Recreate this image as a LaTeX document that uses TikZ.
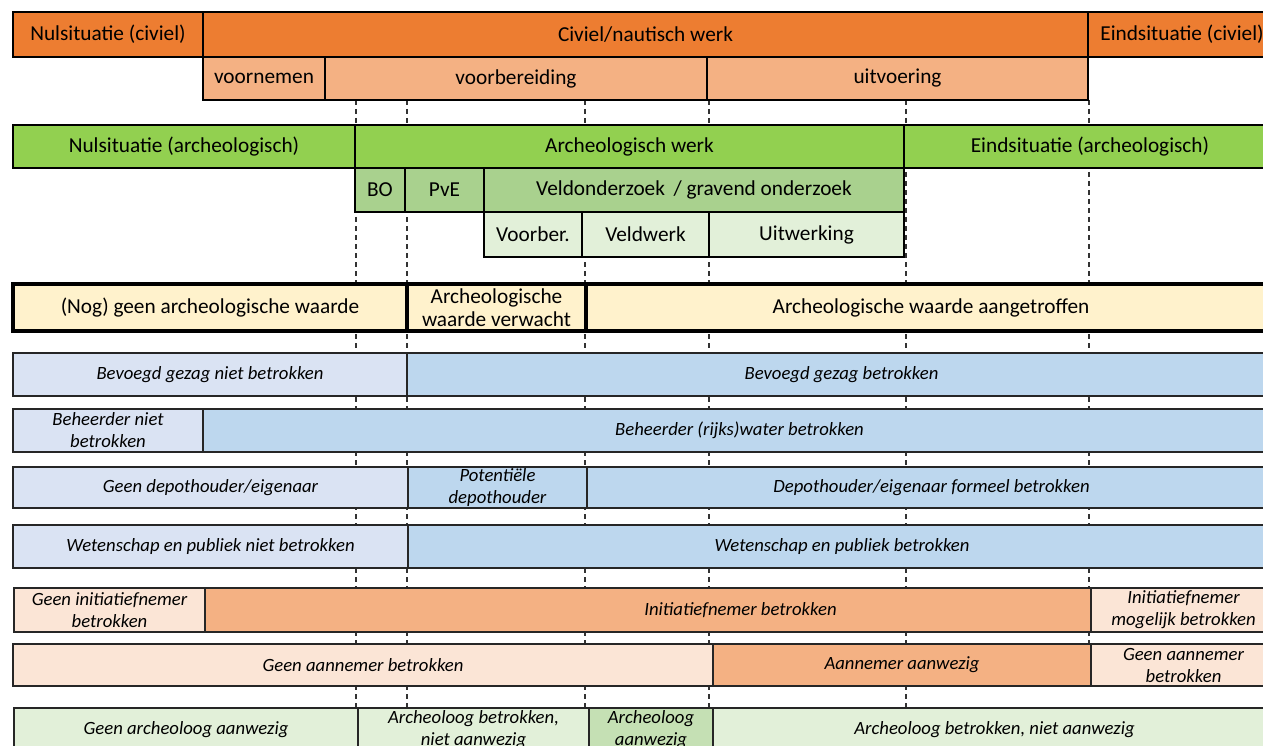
\documentclass[tikz,border=0pt]{standalone}
\usepackage{fontspec}
\setmainfont{Carlito}
\definecolor{oDark}{HTML}{ED7D31}
\definecolor{oLight}{HTML}{F4B183}
\definecolor{oPale}{HTML}{FBE5D6}
\definecolor{gBright}{HTML}{92D050}
\definecolor{gMid}{HTML}{A9D18E}
\definecolor{gLight}{HTML}{E2F0D9}
\definecolor{gArch}{HTML}{C5E0B4}
\definecolor{yPale}{HTML}{FFF2CC}
\definecolor{bPale}{HTML}{DAE3F3}
\definecolor{bMid}{HTML}{BDD7EE}
\tikzset{
  phase/.style={draw=black, line width=2.8pt, inner sep=0pt, outer sep=0pt, align=center,
    font=\fontsize{21.3}{23.5}\selectfont},
  yellowbox/.style={phase, line width=3.4pt, fill=yPale},
  actor/.style={draw=black!85, line width=1.3pt, inner sep=0pt, outer sep=0pt, align=center,
    font=\fontsize{18.7}{22}\selectfont\itshape},
  guide/.style={draw=black!80, line width=1.2pt, dash pattern=on 5pt off 4pt},
}
\newcommand\bx[7]{\node[#6, minimum width={(#3-#2)*1pt}, minimum height={(#5-#4)*1pt}] (#1) at ({(#2+#3)/2},{(#4+#5)/2}) {#7};}
\begin{document}
\begin{tikzpicture}[x=1pt,y=-1pt]
\useasboundingbox (0,0) rectangle (1263,746);
\clip (0,0) rectangle (1263,746);
% dashed guide lines
\draw[guide] (356,100) -- (356,708);
\draw[guide] (407,100) -- (407,708);
\draw[guide] (585,100) -- (585,708);
\draw[guide] (709,100) -- (709,708);
\draw[guide] (906,100) -- (906,708);
\draw[guide] (1089,100) -- (1089,644);
% row 1
\bx{n1a}{13}{203}{12}{57}{phase, fill=oDark}{Nulsituatie (civiel)}
\bx{n1b}{203}{1088}{12}{57}{phase, fill=oDark}{Civiel/nautisch werk}
\bx{n1c}{1088}{1276}{12}{57}{phase, fill=oDark}{Eindsituatie (civiel)}
% row 2
\bx{n2a}{203}{325}{57}{100}{phase, fill=oLight}{voornemen}
\bx{n2b}{325}{707}{57}{100}{phase, fill=oLight}{voorbereiding}
\bx{n2c}{707}{1088}{57}{100}{phase, fill=oLight}{uitvoering}
% row 3
\bx{n3a}{13}{355}{125}{168}{phase, fill=gBright}{Nulsituatie (archeologisch)}
\bx{n3b}{355}{904}{125}{168}{phase, fill=gBright}{Archeologisch werk}
\bx{n3c}{904}{1276}{125}{168}{phase, fill=gBright}{Eindsituatie (archeologisch)}
% row 4
\bx{n4a}{355}{405}{168}{212}{phase, fill=gMid}{BO}
\bx{n4b}{405}{484}{168}{212}{phase, fill=gMid}{PvE}
\bx{n4c}{484}{904}{168}{212}{phase, fill=gMid}{Veldonderzoek\hspace{0.4em}/ gravend onderzoek}
% row 5
\bx{n5a}{484}{582}{212}{257}{phase, fill=gLight}{Voorber.}
\bx{n5b}{582}{709}{212}{257}{phase, fill=gLight}{Veldwerk}
\bx{n5c}{709}{904}{212}{257}{phase, fill=gLight}{Uitwerking}
% row 6
\bx{n6a}{13}{407}{284}{331}{yellowbox}{(Nog) geen archeologische waarde}
\bx{n6b}{407}{586}{284}{331}{yellowbox}{Archeologische\\waarde verwacht}
\bx{n6c}{586}{1276}{284}{331}{yellowbox}{Archeologische waarde aangetroffen}
% row 7
\bx{n7a}{13}{407}{353}{396}{actor, fill=bPale}{Bevoegd gezag niet betrokken}
\bx{n7b}{407}{1276}{353}{396}{actor, fill=bMid}{Bevoegd gezag betrokken}
% row 8
\bx{n8a}{13}{203}{409}{452}{actor, fill=bPale}{Beheerder niet\\betrokken}
\bx{n8b}{203}{1276}{409}{452}{actor, fill=bMid}{Beheerder (rijks)water betrokken}
% row 9
\bx{n9a}{13}{408}{467}{508}{actor, fill=bPale}{Geen depothouder/eigenaar}
\bx{n9b}{408}{587}{467}{508}{actor, fill=bMid}{Potentiële\\depothouder}
\bx{n9c}{587}{1276}{467}{508}{actor, fill=bMid}{Depothouder/eigenaar formeel betrokken}
% row 10
\bx{n10a}{13}{408}{525}{568}{actor, fill=bPale}{Wetenschap en publiek niet betrokken}
\bx{n10b}{408}{1276}{525}{568}{actor, fill=bMid}{Wetenschap en publiek betrokken}
% row 11
\bx{n11a}{14}{205}{588}{632}{actor, fill=oPale}{Geen initiatiefnemer\\betrokken}
\bx{n11b}{205}{1276}{588}{632}{actor, fill=oLight}{Initiatiefnemer betrokken}
\bx{n11c}{1091}{1276}{588}{632}{actor, fill=oPale}{Initiatiefnemer\\mogelijk betrokken}
% row 12
\bx{n12a}{13}{713}{644}{686}{actor, fill=oPale}{Geen aannemer betrokken}
\bx{n12b}{713}{1091}{644}{686}{actor, fill=oLight}{Aannemer aanwezig}
\bx{n12c}{1091}{1276}{644}{686}{actor, fill=oPale}{Geen aannemer\\betrokken}
% row 13
\bx{n13a}{14}{358}{708}{752}{actor, fill=gLight}{Geen archeoloog aanwezig}
\bx{n13b}{358}{589}{708}{752}{actor, fill=gLight}{Archeoloog betrokken,\\niet aanwezig}
\bx{n13c}{589}{713}{708}{752}{actor, fill=gArch}{Archeoloog\\aanwezig}
\bx{n13d}{713}{1276}{708}{752}{actor, fill=gLight}{Archeoloog betrokken, niet aanwezig}
\end{tikzpicture}
\end{document}
